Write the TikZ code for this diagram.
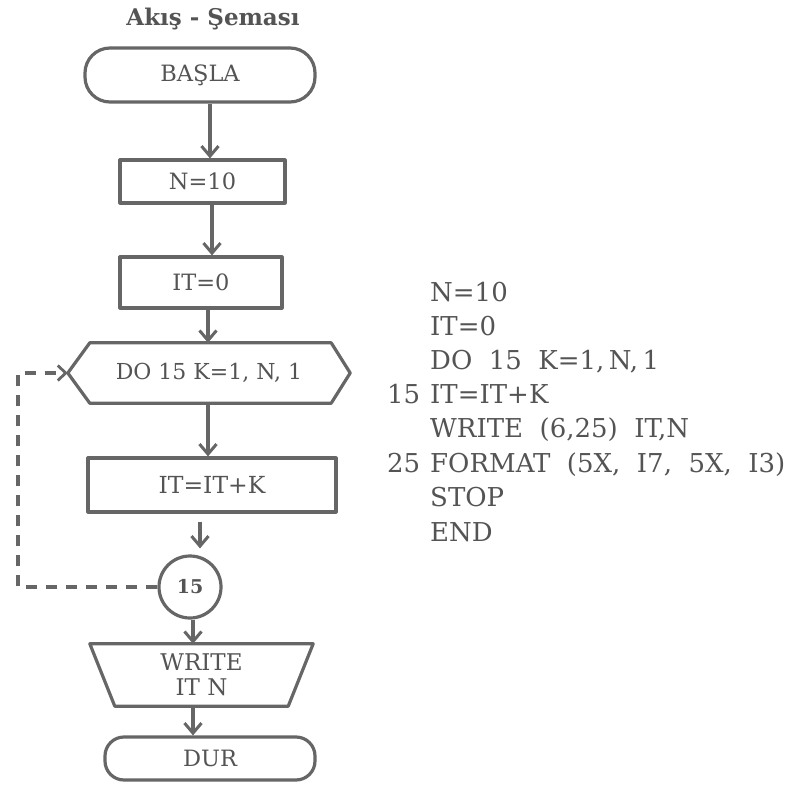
\documentclass[tikz,border=0pt]{standalone}
\usepackage{fontspec}
\setmainfont{DejaVu Serif}
\usetikzlibrary{arrows.meta,calc}
\definecolor{ink}{HTML}{666666}
\definecolor{txt}{HTML}{545454}
\begin{document}
\begin{tikzpicture}[x=1pt,y=-1pt,
  outline/.style={draw=ink, line width=3.2pt, line join=round},
  shp/.style={outline, text=txt, inner sep=0pt, align=center},
  bare/.style={text=txt, inner sep=0pt, align=center},
  fctext/.style={font=\fontsize{22.5}{25}\selectfont},
  arr/.style={draw=ink, line width=3.2pt, -{Straight Barb[length=10pt,width=17pt,line width=3pt]}},
  loopline/.style={draw=ink, line width=3.2pt, dash pattern=on 11pt off 9pt, -{Straight Barb[length=8pt,width=15pt,line width=2.8pt]}},
  code/.style={text=txt, inner sep=0pt, anchor=base west, font=\fontsize{26}{30}\selectfont}]
\useasboundingbox (0,0) rectangle (793,787);
\fill[white] (0,0) rectangle (793,787);

% title
\node[bare, font=\fontsize{23}{28}\selectfont\bfseries, text=txt] (title) at (213,19) {Akış - Şeması};

% flowchart shapes
\node[shp, fctext, minimum width=230, minimum height=54, rounded corners=25] (basla) at (200,75) {BAŞLA};
\node[shp, fctext, minimum width=165, minimum height=43] (n10) at (202.5,181.5) {N=10};
\node[shp, fctext, minimum width=162, minimum height=51] (it0) at (201,282.5) {IT=0};
\node[bare, font=\fontsize{22}{25}\selectfont, minimum width=282, minimum height=60] (do) at (209,373) {DO 15 K=1, N, 1};
\draw[outline] (do.west) -- ($(do.north west)+(22,0)$) -- ($(do.north east)+(-19,0)$) -- (do.east)
  -- ($(do.south east)+(-19,0)$) -- ($(do.south west)+(22,0)$) -- cycle;
\node[shp, font=\fontsize{23.5}{26}\selectfont, minimum width=248, minimum height=54] (itk) at (212,485) {IT=IT+K};
\node[shp, circle, font=\fontsize{19}{22}\selectfont\bfseries, minimum size=62] (c15) at (190,587) {15};
\node[bare, font=\fontsize{23}{25}\selectfont, minimum width=223, minimum height=62] (wr) at (201.5,675) {WRITE\\IT N};
\draw[outline] (wr.north west) -- (wr.north east) -- ($(wr.south east)+(-25,0)$) -- ($(wr.south west)+(25,0)$) -- cycle;
\node[shp, fctext, minimum width=210, minimum height=43, rounded corners=19] (dur) at (210,758.5) {DUR};

% connectors
\draw[arr] ([xshift=10]basla.south) -- ([xshift=10]basla.south |- n10.north);
\draw[arr] ([xshift=9.5]n10.south) -- ([xshift=9.5]n10.south |- it0.north);
\draw[arr] ([xshift=7]it0.south) -- ([xshift=7]it0.south |- do.north);
\draw[arr] ([xshift=-1]do.south) -- ([xshift=-1]do.south |- itk.north);
\draw[arr, shorten <=8pt, shorten >=6pt] ([xshift=-12]itk.south) -- ([xshift=-12]itk.south |- c15.north);
\draw[arr] ([xshift=3]c15.south) -- ([xshift=3]c15.south |- wr.north);
\draw[arr] ([xshift=-8.5]wr.south) -- ([xshift=-8.5]wr.south |- dur.north);

% loop-back
\coordinate (lpx) at (18,0);
\draw[loopline] (c15.west) -- (c15.west -| lpx) -- (do.west -| lpx) -- (do.west);

% FORTRAN listing
\node[code] (l1) at (430,301) {N=10};
\node[code] (l2) at (430,335) {IT=0};
\node[code] (l3) at (430,369) {DO\ \ 15\ \ K=1,\,N,\,1};
\node[code] (l4) at (430,403.5) {IT=IT+K};
\node[code] (l5) at (430,437.5) {WRITE\ \ (6,25)\ \ IT,N};
\node[code] (l6) at (430,472) {FORMAT\ \ (5X,\ \ I7,\ \ 5X,\ \ I3)};
\node[code] (l7) at (430,506.5) {STOP};
\node[code] (l8) at (430,541) {END};
\node[code] (lab15) at (387,403.5) {15};
\node[code] (lab25) at (387,472) {25};
\end{tikzpicture}
\end{document}
